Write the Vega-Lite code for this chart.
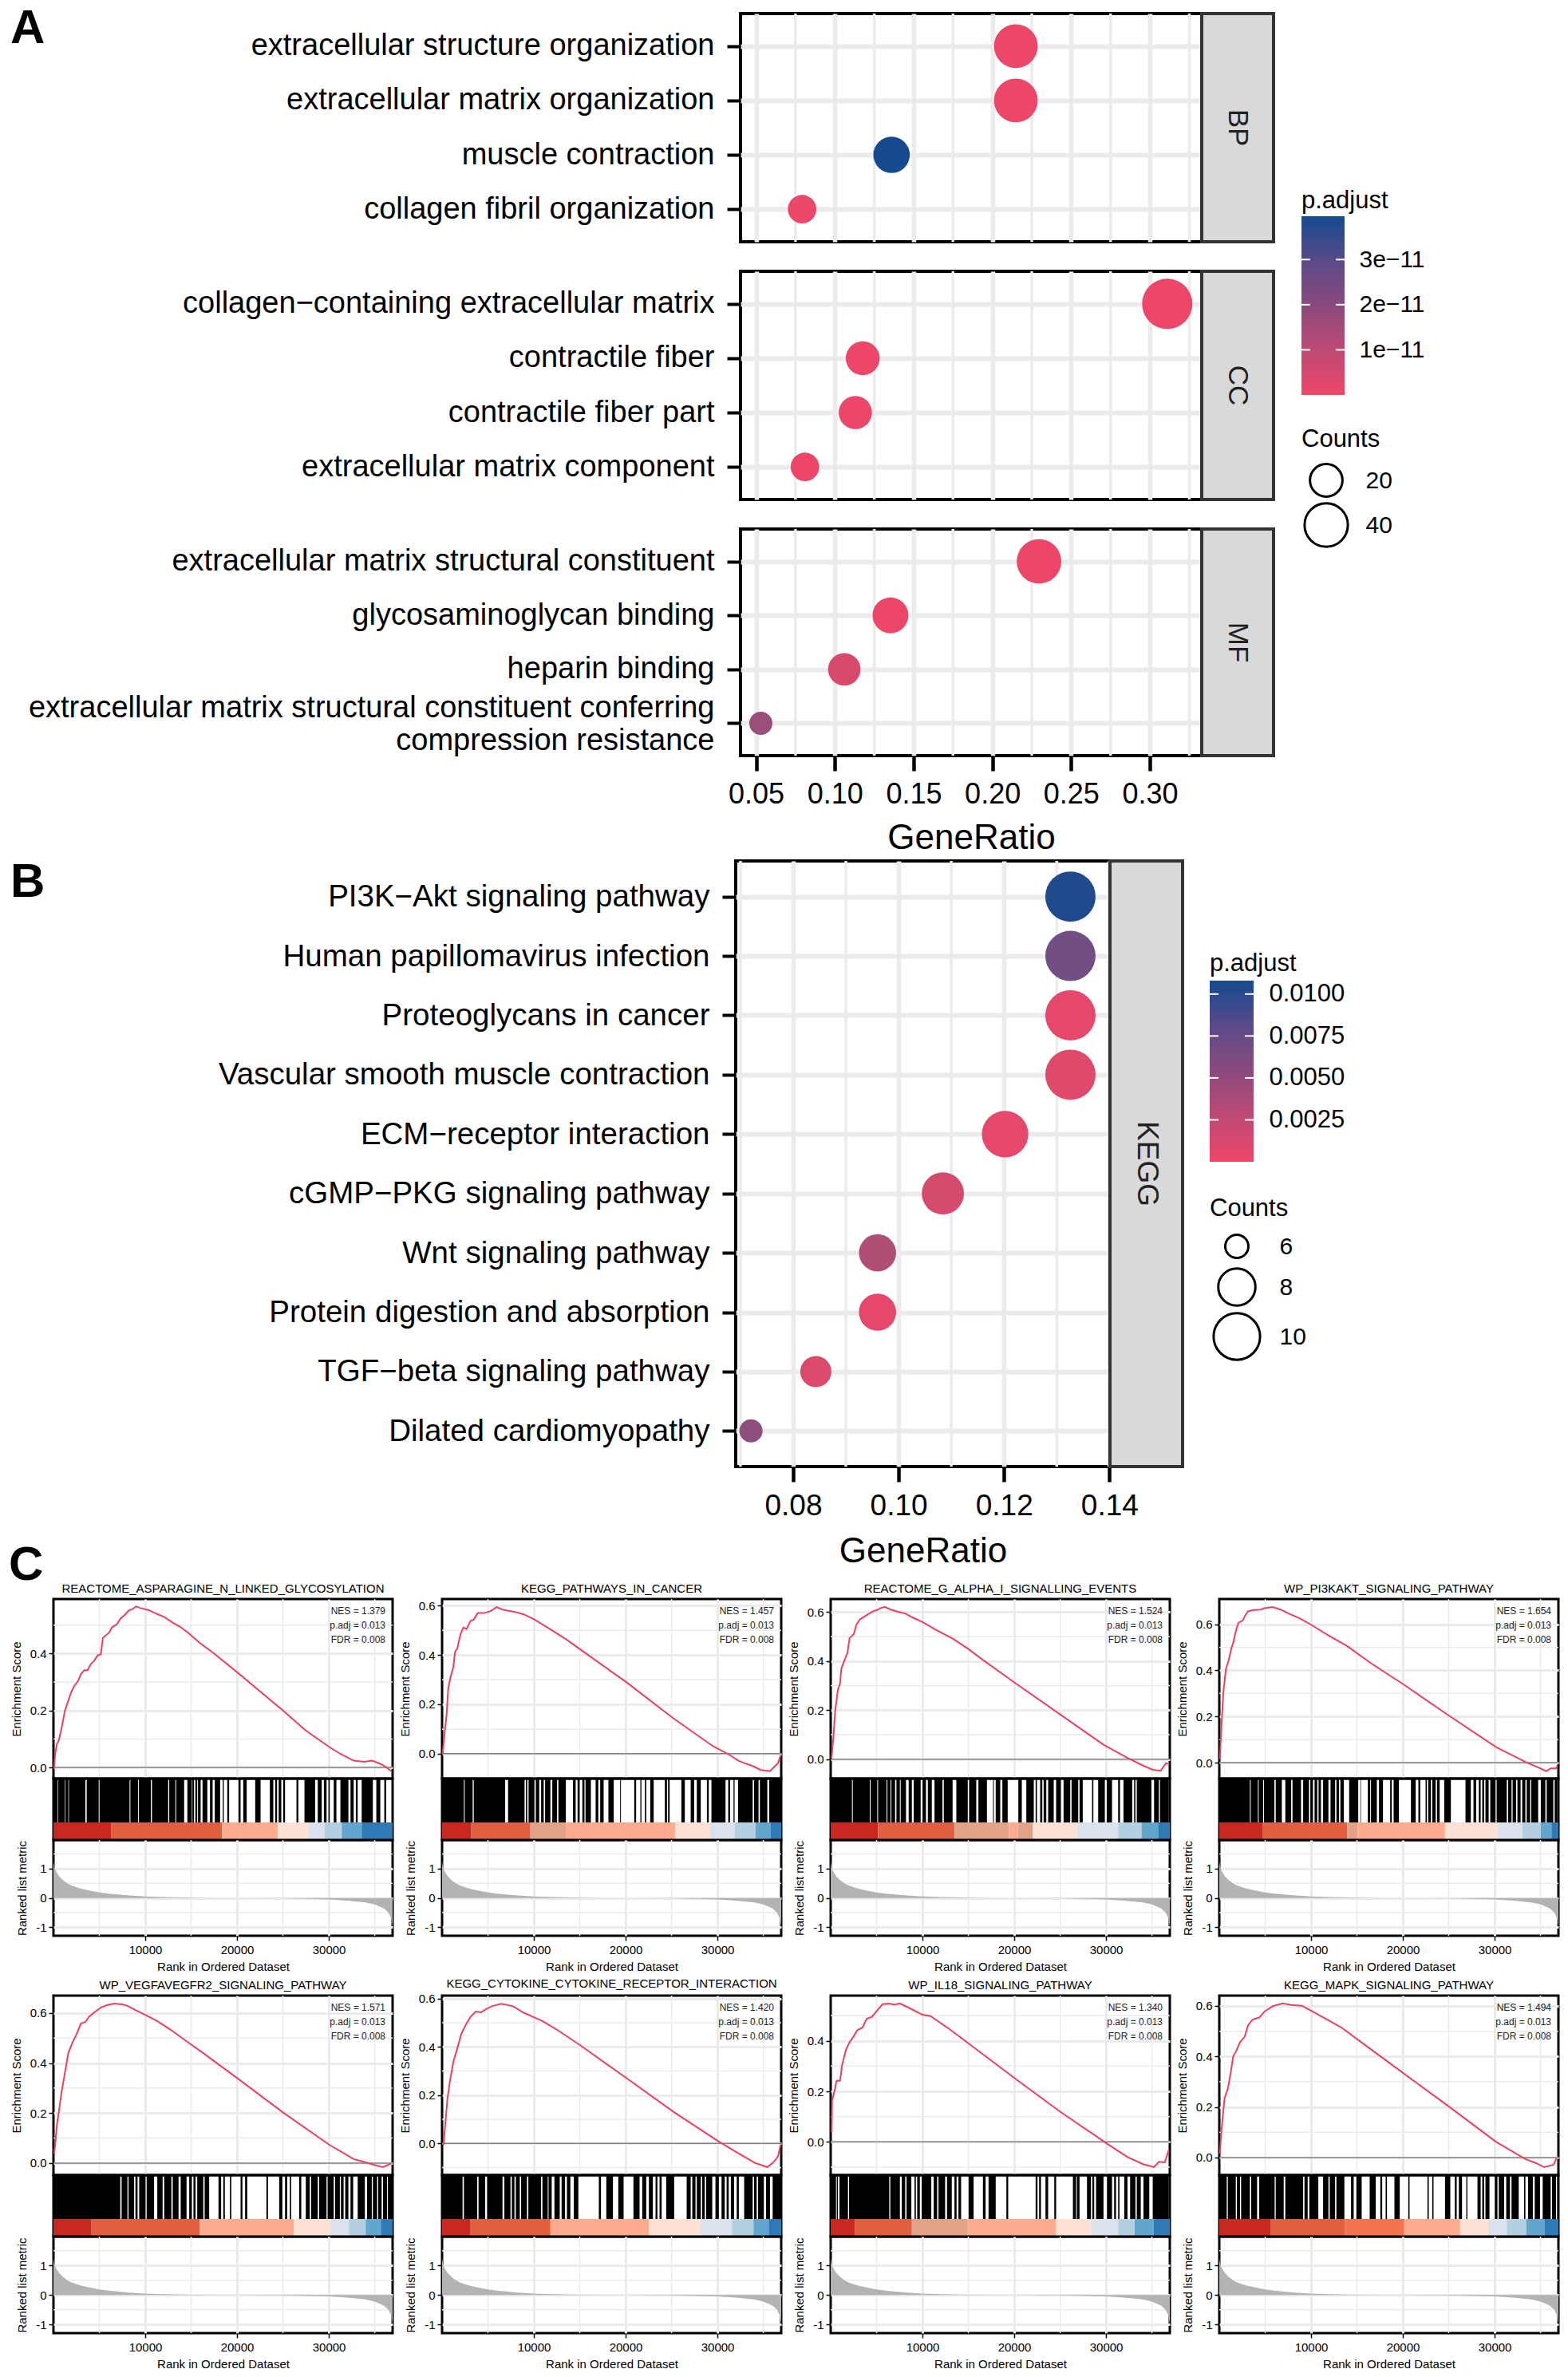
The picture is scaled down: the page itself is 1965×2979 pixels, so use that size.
{"$schema":"https://vega.github.io/schema/vega-lite/v6.json","background":"white","padding":{"left":10,"top":4,"right":0,"bottom":0},
"config":{"font":"Liberation Sans","title":{"fontWeight":"normal","color":"black"},"axis":{"gridColor":"#ebebeb","gridWidth":3,"tickColor":"black","tickWidth":1.5,"tickSize":6,"domain":false,"labelFontSize":15,"titleFontSize":15,"titleFontWeight":"normal","labelColor":"black","titleColor":"black","labelPadding":3,"titlePadding":9,"labelFlush":false,"labelOverlap":false},"rule":{"color":"#ebebeb","strokeWidth":1.5},"line":{"color":"#EE3F5F","strokeWidth":2},"area":{"color":"#b3b3b3"},"range":{"category":["#C8281F","#E15E3E","#FCAB8F","#FCE1D4","#DBE2EE","#B5CFE2","#62A5CE","#2F79B5","#E2A288","#F4744F"]}},
"datasets":{
"one":[{"s":1}],
"mx":[{"r":5000},{"r":15000},{"r":25000},{"r":35000}],
"my":[{"v":0.1},{"v":0.3},{"v":0.5}],
"my2":[{"v":-0.1},{"v":0.1},{"v":0.3},{"v":0.5}],
"mym":[{"v":-0.5},{"v":0.5},{"v":1.5}],
"zero":[{"v":0}],
"mxA":[{"r":0.075},{"r":0.125},{"r":0.175},{"r":0.225},{"r":0.275},{"r":0.325}],
"mxB":[{"r":0.07},{"r":0.09},{"r":0.11},{"r":0.13}],
"bp":[{"term":"extracellular structure organization","r":0.2149,"p":5e-13,"n":41},{"term":"extracellular matrix organization","r":0.2149,"p":5e-13,"n":41},{"term":"muscle contraction","r":0.136,"p":3.96e-11,"n":26},{"term":"collagen fibril organization","r":0.0792,"p":1e-12,"n":15}],
"cc":[{"term":"collagen−containing extracellular matrix","r":0.311,"p":5e-13,"n":59},{"term":"contractile fiber","r":0.1177,"p":5e-13,"n":22},{"term":"contractile fiber part","r":0.113,"p":5e-13,"n":21},{"term":"extracellular matrix component","r":0.081,"p":5e-13,"n":15}],
"mf":[{"term":"extracellular matrix structural constituent","r":0.2296,"p":5e-13,"n":43},{"term":"glycosaminoglycan binding","r":0.1353,"p":5e-13,"n":25},{"term":"heparin binding","r":0.106,"p":5e-12,"n":20},{"term":"extracellular matrix structural constituent conferring compression resistance","r":0.053,"p":1.9e-11,"n":10}],
"kegg":[{"term":"PI3K−Akt signaling pathway","r":0.1326,"p":0.0106,"n":11},{"term":"Human papillomavirus infection","r":0.1326,"p":0.0075,"n":11},{"term":"Proteoglycans in cancer","r":0.1326,"p":0.0006,"n":11},{"term":"Vascular smooth muscle contraction","r":0.1326,"p":0.001,"n":11},{"term":"ECM−receptor interaction","r":0.1202,"p":0.0006,"n":10},{"term":"cGMP−PKG signaling pathway","r":0.1084,"p":0.0016,"n":9},{"term":"Wnt signaling pathway","r":0.096,"p":0.0038,"n":8},{"term":"Protein digestion and absorption","r":0.096,"p":0.0006,"n":8},{"term":"TGF−beta signaling pathway","r":0.0843,"p":0.0012,"n":7},{"term":"Dilated cardiomyopathy","r":0.072,"p":0.006,"n":6}],
"metric":[{"r":0,"v":1.25},{"r":100,"v":1.05},{"r":300,"v":0.9},{"r":600,"v":0.75},{"r":1000,"v":0.62},{"r":1500,"v":0.5},{"r":2000,"v":0.42},{"r":3000,"v":0.32},{"r":4000,"v":0.25},{"r":5000,"v":0.19},{"r":6000,"v":0.15},{"r":8000,"v":0.09},{"r":10000,"v":0.05},{"r":12000,"v":0.03},{"r":15000,"v":0.01},{"r":18000,"v":0},{"r":20000,"v":0},{"r":25000,"v":-0.01},{"r":28000,"v":-0.03},{"r":30000,"v":-0.05},{"r":32000,"v":-0.09},{"r":34000,"v":-0.15},{"r":35000,"v":-0.22},{"r":36000,"v":-0.36},{"r":36500,"v":-0.5},{"r":36800,"v":-0.7},{"r":36950,"v":-1}],
"es1":[{"r":60,"v":-0.006},{"r":170,"v":0.043},{"r":350,"v":0.08},{"r":580,"v":0.095},{"r":870,"v":0.136},{"r":1250,"v":0.2},{"r":1620,"v":0.235},{"r":1910,"v":0.263},{"r":2260,"v":0.286},{"r":2700,"v":0.305},{"r":2990,"v":0.328},{"r":3360,"v":0.342},{"r":3710,"v":0.342},{"r":4060,"v":0.363},{"r":4430,"v":0.375},{"r":4810,"v":0.394},{"r":5160,"v":0.398},{"r":5390,"v":0.456},{"r":5740,"v":0.465},{"r":6090,"v":0.475},{"r":6380,"v":0.493},{"r":6900,"v":0.503},{"r":7330,"v":0.524},{"r":7770,"v":0.536},{"r":8200,"v":0.552},{"r":8640,"v":0.557},{"r":8990,"v":0.566},{"r":9510,"v":0.56},{"r":10380,"v":0.553},{"r":11250,"v":0.54},{"r":12120,"v":0.528},{"r":12990,"v":0.509},{"r":13860,"v":0.493},{"r":14720,"v":0.472},{"r":15880,"v":0.439},{"r":17330,"v":0.405},{"r":20000,"v":0.335},{"r":25010,"v":0.2},{"r":27480,"v":0.13},{"r":30090,"v":0.071},{"r":31250,"v":0.048},{"r":32700,"v":0.024},{"r":33280,"v":0.022},{"r":33860,"v":0.02},{"r":34730,"v":0.024},{"r":35600,"v":0.013},{"r":36170,"v":0.003},{"r":36810,"v":-0.013}],
"es2":[{"r":60,"v":-0.001},{"r":260,"v":0.08},{"r":490,"v":0.156},{"r":670,"v":0.263},{"r":930,"v":0.312},{"r":1220,"v":0.35},{"r":1420,"v":0.414},{"r":1650,"v":0.425},{"r":2000,"v":0.484},{"r":2320,"v":0.511},{"r":2670,"v":0.506},{"r":3100,"v":0.538},{"r":3450,"v":0.544},{"r":3890,"v":0.57},{"r":4550,"v":0.57},{"r":5280,"v":0.578},{"r":5950,"v":0.594},{"r":6580,"v":0.584},{"r":7020,"v":0.581},{"r":7450,"v":0.578},{"r":8030,"v":0.574},{"r":8900,"v":0.565},{"r":10060,"v":0.544},{"r":11510,"v":0.511},{"r":13540,"v":0.463},{"r":15570,"v":0.409},{"r":20070,"v":0.29},{"r":25140,"v":0.145},{"r":29490,"v":0.031},{"r":31090,"v":0},{"r":32250,"v":-0.028},{"r":32970,"v":-0.039},{"r":33840,"v":-0.05},{"r":34710,"v":-0.066},{"r":35730,"v":-0.071},{"r":36160,"v":-0.055},{"r":36600,"v":-0.039},{"r":36890,"v":-0.006}],
"es3":[{"r":90,"v":0.005},{"r":290,"v":0.087},{"r":490,"v":0.195},{"r":780,"v":0.282},{"r":1020,"v":0.309},{"r":1160,"v":0.369},{"r":1540,"v":0.407},{"r":1830,"v":0.434},{"r":2060,"v":0.494},{"r":2520,"v":0.51},{"r":2810,"v":0.548},{"r":3190,"v":0.57},{"r":3620,"v":0.58},{"r":4060,"v":0.591},{"r":4640,"v":0.604},{"r":5080,"v":0.608},{"r":5420,"v":0.616},{"r":5890,"v":0.621},{"r":6530,"v":0.61},{"r":7250,"v":0.602},{"r":8120,"v":0.594},{"r":8850,"v":0.579},{"r":10010,"v":0.559},{"r":11460,"v":0.527},{"r":13340,"v":0.491},{"r":14940,"v":0.451},{"r":16680,"v":0.402},{"r":20010,"v":0.313},{"r":24940,"v":0.184},{"r":29730,"v":0.059},{"r":32340,"v":0.005},{"r":34080,"v":-0.027},{"r":35090,"v":-0.043},{"r":35960,"v":-0.047},{"r":36540,"v":-0.016},{"r":36830,"v":-0.02}],
"es4":[{"r":60,"v":0.015},{"r":230,"v":0.154},{"r":440,"v":0.304},{"r":730,"v":0.408},{"r":1010,"v":0.442},{"r":1310,"v":0.494},{"r":1540,"v":0.524},{"r":1800,"v":0.57},{"r":2090,"v":0.607},{"r":2550,"v":0.616},{"r":2840,"v":0.639},{"r":3130,"v":0.656},{"r":3770,"v":0.662},{"r":4500,"v":0.664},{"r":4930,"v":0.67},{"r":5800,"v":0.675},{"r":6670,"v":0.664},{"r":7690,"v":0.644},{"r":8700,"v":0.627},{"r":10010,"v":0.598},{"r":11890,"v":0.552},{"r":13920,"v":0.506},{"r":16530,"v":0.431},{"r":20010,"v":0.341},{"r":24940,"v":0.206},{"r":30160,"v":0.067},{"r":33350,"v":0.003},{"r":34800,"v":-0.022},{"r":35610,"v":-0.037},{"r":36110,"v":-0.025},{"r":36690,"v":-0.025},{"r":36830,"v":-0.014}],
"es5":[{"r":60,"v":0.037},{"r":170,"v":0.069},{"r":380,"v":0.154},{"r":580,"v":0.202},{"r":870,"v":0.282},{"r":1250,"v":0.362},{"r":1620,"v":0.441},{"r":2030,"v":0.479},{"r":2550,"v":0.518},{"r":2990,"v":0.559},{"r":3480,"v":0.564},{"r":3860,"v":0.585},{"r":4440,"v":0.603},{"r":5160,"v":0.622},{"r":5740,"v":0.631},{"r":6610,"v":0.638},{"r":7480,"v":0.635},{"r":8060,"v":0.629},{"r":8930,"v":0.612},{"r":9950,"v":0.594},{"r":11250,"v":0.569},{"r":12700,"v":0.535},{"r":14440,"v":0.489},{"r":16470,"v":0.436},{"r":20010,"v":0.34},{"r":25030,"v":0.202},{"r":30020,"v":0.074},{"r":32710,"v":0.016},{"r":34020,"v":0.003},{"r":35030,"v":-0.008},{"r":35900,"v":-0.016},{"r":36770,"v":-0.002}],
"es6":[{"r":150,"v":-0.008},{"r":350,"v":0.078},{"r":580,"v":0.183},{"r":840,"v":0.254},{"r":1220,"v":0.337},{"r":1650,"v":0.392},{"r":2090,"v":0.453},{"r":2670,"v":0.497},{"r":3100,"v":0.524},{"r":3680,"v":0.546},{"r":4260,"v":0.543},{"r":4840,"v":0.557},{"r":5420,"v":0.568},{"r":6440,"v":0.578},{"r":7740,"v":0.568},{"r":8900,"v":0.541},{"r":10930,"v":0.507},{"r":12380,"v":0.474},{"r":14990,"v":0.408},{"r":20070,"v":0.271},{"r":25140,"v":0.133},{"r":30070,"v":0.01},{"r":32390,"v":-0.043},{"r":34130,"v":-0.081},{"r":35440,"v":-0.098},{"r":36160,"v":-0.076},{"r":36600,"v":-0.054},{"r":36890,"v":-0.004}],
"es7":[{"r":90,"v":0.037},{"r":150,"v":0.163},{"r":440,"v":0.205},{"r":640,"v":0.242},{"r":1020,"v":0.242},{"r":1250,"v":0.305},{"r":1650,"v":0.363},{"r":2030,"v":0.393},{"r":2470,"v":0.416},{"r":2900,"v":0.442},{"r":3480,"v":0.453},{"r":3920,"v":0.487},{"r":4500,"v":0.495},{"r":5080,"v":0.521},{"r":5660,"v":0.545},{"r":6380,"v":0.547},{"r":6960,"v":0.543},{"r":7540,"v":0.548},{"r":8560,"v":0.53},{"r":10010,"v":0.503},{"r":10880,"v":0.498},{"r":12910,"v":0.447},{"r":15230,"v":0.384},{"r":20010,"v":0.253},{"r":24940,"v":0.121},{"r":30020,"v":-0.005},{"r":32340,"v":-0.06},{"r":34080,"v":-0.089},{"r":35240,"v":-0.1},{"r":35760,"v":-0.079},{"r":36400,"v":-0.081},{"r":36830,"v":-0.032}],
"es8":[{"r":60,"v":0.015},{"r":170,"v":0.078},{"r":350,"v":0.152},{"r":580,"v":0.236},{"r":930,"v":0.272},{"r":1220,"v":0.33},{"r":1510,"v":0.399},{"r":1890,"v":0.425},{"r":2260,"v":0.457},{"r":2760,"v":0.478},{"r":3130,"v":0.523},{"r":3630,"v":0.546},{"r":4350,"v":0.554},{"r":4930,"v":0.578},{"r":5800,"v":0.599},{"r":6900,"v":0.61},{"r":7830,"v":0.604},{"r":8990,"v":0.601},{"r":10150,"v":0.578},{"r":11600,"v":0.549},{"r":13340,"v":0.514},{"r":15080,"v":0.467},{"r":20010,"v":0.335},{"r":24940,"v":0.204},{"r":30160,"v":0.062},{"r":33350,"v":-0.006},{"r":34510,"v":-0.022},{"r":35380,"v":-0.038},{"r":36400,"v":-0.029},{"r":36770,"v":-0.001}],
"nes1":[{"t":"NES = 1.379","r":36170,"v":0.55},{"t":"p.adj = 0.013","r":36170,"v":0.4995},{"t":"FDR = 0.008","r":36170,"v":0.449}],
"nes2":[{"t":"NES = 1.457","r":36170,"v":0.5785},{"t":"p.adj = 0.013","r":36170,"v":0.5202},{"t":"FDR = 0.008","r":36170,"v":0.462}],
"nes3":[{"t":"NES = 1.524","r":36170,"v":0.6042},{"t":"p.adj = 0.013","r":36170,"v":0.5457},{"t":"FDR = 0.008","r":36170,"v":0.4871}],
"nes4":[{"t":"NES = 1.654","r":36170,"v":0.6577},{"t":"p.adj = 0.013","r":36170,"v":0.5954},{"t":"FDR = 0.008","r":36170,"v":0.5331}],
"nes5":[{"t":"NES = 1.571","r":36170,"v":0.6221},{"t":"p.adj = 0.013","r":36170,"v":0.5647},{"t":"FDR = 0.008","r":36170,"v":0.5073}],
"nes6":[{"t":"NES = 1.420","r":36170,"v":0.5625},{"t":"p.adj = 0.013","r":36170,"v":0.5031},{"t":"FDR = 0.008","r":36170,"v":0.4437}],
"nes7":[{"t":"NES = 1.340","r":36170,"v":0.5316},{"t":"p.adj = 0.013","r":36170,"v":0.4747},{"t":"FDR = 0.008","r":36170,"v":0.4178}],
"nes8":[{"t":"NES = 1.494","r":36170,"v":0.5936},{"t":"p.adj = 0.013","r":36170,"v":0.5367},{"t":"FDR = 0.008","r":36170,"v":0.4798}],
"heat1":[{"a":0,"b":6264,"k":"a"},{"a":6264,"b":18357,"k":"b"},{"a":18357,"b":24447,"k":"c"},{"a":24447,"b":27782,"k":"d"},{"a":27782,"b":29522,"k":"e"},{"a":29522,"b":31407,"k":"f"},{"a":31407,"b":33582,"k":"g"},{"a":33582,"b":36950,"k":"h"}],
"heat2":[{"a":0,"b":3190,"k":"a"},{"a":3190,"b":9628,"k":"b"},{"a":9628,"b":13485,"k":"i"},{"a":13485,"b":25433,"k":"c"},{"a":25433,"b":29203,"k":"d"},{"a":29203,"b":31871,"k":"e"},{"a":31871,"b":34133,"k":"f"},{"a":34133,"b":35815,"k":"g"},{"a":35815,"b":36950,"k":"h"}],
"heat3":[{"a":0,"b":5162,"k":"a"},{"a":5162,"b":13485,"k":"b"},{"a":13485,"b":19430,"k":"i"},{"a":19430,"b":20445,"k":"c"},{"a":20445,"b":22040,"k":"i"},{"a":22040,"b":26825,"k":"d"},{"a":26825,"b":31320,"k":"e"},{"a":31320,"b":33872,"k":"f"},{"a":33872,"b":35670,"k":"g"},{"a":35670,"b":36950,"k":"h"}],
"heat4":[{"a":0,"b":4698,"k":"a"},{"a":4698,"b":13920,"k":"b"},{"a":13920,"b":15080,"k":"i"},{"a":15080,"b":24592,"k":"c"},{"a":24592,"b":30305,"k":"d"},{"a":30305,"b":33002,"k":"e"},{"a":33002,"b":35032,"k":"f"},{"a":35032,"b":36192,"k":"g"},{"a":36192,"b":36950,"k":"h"}],
"heat5":[{"a":0,"b":4147,"k":"a"},{"a":4147,"b":15950,"k":"b"},{"a":15950,"b":26187,"k":"c"},{"a":26187,"b":30160,"k":"d"},{"a":30160,"b":32190,"k":"e"},{"a":32190,"b":34017,"k":"f"},{"a":34017,"b":35670,"k":"g"},{"a":35670,"b":36950,"k":"h"}],
"heat6":[{"a":0,"b":3045,"k":"a"},{"a":3045,"b":11803,"k":"b"},{"a":11803,"b":22533,"k":"c"},{"a":22533,"b":28101,"k":"d"},{"a":28101,"b":31581,"k":"e"},{"a":31581,"b":33930,"k":"f"},{"a":33930,"b":35583,"k":"g"},{"a":35583,"b":36950,"k":"h"}],
"heat7":[{"a":0,"b":2668,"k":"a"},{"a":2668,"b":8845,"k":"b"},{"a":8845,"b":14935,"k":"i"},{"a":14935,"b":24563,"k":"c"},{"a":24563,"b":28420,"k":"d"},{"a":28420,"b":31320,"k":"e"},{"a":31320,"b":33118,"k":"f"},{"a":33118,"b":35177,"k":"g"},{"a":35177,"b":36950,"k":"h"}],
"heat8":[{"a":0,"b":5568,"k":"a"},{"a":5568,"b":13688,"k":"b"},{"a":13688,"b":20155,"k":"j"},{"a":20155,"b":26245,"k":"c"},{"a":26245,"b":29290,"k":"d"},{"a":29290,"b":31320,"k":"e"},{"a":31320,"b":33437,"k":"f"},{"a":33437,"b":35467,"k":"g"},{"a":35467,"b":36950,"k":"h"}],
"hits1":[{"a":0,"b":464},{"a":522,"b":1247},{"a":1305,"b":1624},{"a":1682,"b":3480},{"a":3625,"b":4930},{"a":5017,"b":8294},{"a":8381,"b":9222},{"a":9309,"b":10614},{"a":10730,"b":12499},{"a":12615,"b":13282},{"a":13369,"b":14239},{"a":14587,"b":15080},{"a":15138,"b":15312},{"a":15457,"b":15660},{"a":15747,"b":16037},{"a":16240,"b":16762},{"a":17052,"b":17342},{"a":17574,"b":18154},{"a":18444,"b":18560},{"a":18937,"b":19140},{"a":20155,"b":20387},{"a":20677,"b":21054},{"a":21982,"b":22562},{"a":23577,"b":23954},{"a":24157,"b":24360},{"a":24534,"b":24824},{"a":25027,"b":25230},{"a":26477,"b":26680},{"a":27347,"b":28507},{"a":28797,"b":29232},{"a":29464,"b":29754},{"a":29957,"b":30102},{"a":30537,"b":30827},{"a":31262,"b":32132},{"a":32364,"b":32712},{"a":32944,"b":33147},{"a":33582,"b":34800},{"a":35177,"b":35612},{"a":36047,"b":36250}],
"hits2":[{"a":0,"b":2378},{"a":2465,"b":3335},{"a":3451,"b":6873},{"a":7192,"b":8990},{"a":9135,"b":9280},{"a":9425,"b":10063},{"a":10208,"b":10585},{"a":10788,"b":11078},{"a":11223,"b":11803},{"a":12006,"b":12528},{"a":12673,"b":13485},{"a":14268,"b":14558},{"a":14761,"b":14993},{"a":15283,"b":15515},{"a":15631,"b":16211},{"a":16733,"b":17023},{"a":17226,"b":17603},{"a":18125,"b":18705},{"a":19401,"b":19488},{"a":20938,"b":21141},{"a":21605,"b":21721},{"a":22098,"b":22243},{"a":22678,"b":23055},{"a":24273,"b":24505},{"a":24621,"b":24795},{"a":26071,"b":26448},{"a":27086,"b":27463},{"a":27753,"b":28188},{"a":28855,"b":29058},{"a":29348,"b":30885},{"a":31175,"b":31378},{"a":31755,"b":31871},{"a":32248,"b":33843},{"a":33988,"b":34481},{"a":34626,"b":35438},{"a":35641,"b":36946}],
"hits3":[{"a":0,"b":2320},{"a":2407,"b":4263},{"a":4350,"b":5075},{"a":5162,"b":6090},{"a":6177,"b":6525},{"a":6612,"b":7018},{"a":7163,"b":7540},{"a":7627,"b":8207},{"a":8497,"b":8845},{"a":9048,"b":9802},{"a":10005,"b":10382},{"a":10585,"b":11020},{"a":11310,"b":12180},{"a":12325,"b":13282},{"a":13688,"b":14935},{"a":15080,"b":15863},{"a":16095,"b":17023},{"a":17690,"b":17777},{"a":17980,"b":18473},{"a":18705,"b":19285},{"a":20445,"b":20822},{"a":21315,"b":22127},{"a":22330,"b":22475},{"a":22823,"b":23055},{"a":23200,"b":23490},{"a":23693,"b":24302},{"a":24563,"b":25085},{"a":25375,"b":26100},{"a":26245,"b":26970},{"a":27115,"b":27463},{"a":28478,"b":28623},{"a":29145,"b":29870},{"a":30073,"b":30653},{"a":31320,"b":31523},{"a":31900,"b":32857},{"a":33060,"b":33205},{"a":33350,"b":34945},{"a":35235,"b":35757},{"a":35873,"b":36830}],
"hits4":[{"a":0,"b":3335},{"a":3422,"b":4205},{"a":4292,"b":4785},{"a":4872,"b":6003},{"a":6148,"b":6815},{"a":7192,"b":7830},{"a":7975,"b":8903},{"a":9135,"b":9773},{"a":9918,"b":10208},{"a":10382,"b":10672},{"a":10817,"b":11078},{"a":11310,"b":11890},{"a":12122,"b":12615},{"a":12760,"b":13050},{"a":13195,"b":13572},{"a":14152,"b":15138},{"a":15370,"b":15428},{"a":16182,"b":16443},{"a":16530,"b":17168},{"a":17400,"b":17835},{"a":18618,"b":18792},{"a":18995,"b":19575},{"a":20880,"b":21402},{"a":21692,"b":21895},{"a":22475,"b":22620},{"a":22765,"b":23055},{"a":23200,"b":23577},{"a":23722,"b":24012},{"a":24505,"b":25230},{"a":26825,"b":27405},{"a":27695,"b":27985},{"a":28275,"b":28478},{"a":28652,"b":28855},{"a":29000,"b":29348},{"a":29522,"b":30102},{"a":30218,"b":31320},{"a":31465,"b":31842},{"a":31958,"b":32335},{"a":32480,"b":32828},{"a":33002,"b":33350},{"a":33495,"b":33872},{"a":33988,"b":34742},{"a":35032,"b":35525},{"a":35670,"b":36395},{"a":36540,"b":36830}],
"hits5":[{"a":0,"b":7279},{"a":7424,"b":8062},{"a":8178,"b":8787},{"a":8932,"b":9164},{"a":9338,"b":10034},{"a":10150,"b":10962},{"a":11310,"b":11890},{"a":12064,"b":12847},{"a":12992,"b":13630},{"a":13862,"b":14500},{"a":14790,"b":15080},{"a":15254,"b":15486},{"a":15660,"b":16327},{"a":16472,"b":16965},{"a":17980,"b":18270},{"a":18502,"b":18676},{"a":19227,"b":19372},{"a":20387,"b":20590},{"a":20880,"b":21112},{"a":23200,"b":23374},{"a":24592,"b":24940},{"a":25230,"b":25462},{"a":25752,"b":25897},{"a":26767,"b":26999},{"a":27492,"b":27927},{"a":28072,"b":28797},{"a":28942,"b":29754},{"a":29870,"b":30537},{"a":30682,"b":31204},{"a":31320,"b":31610},{"a":31784,"b":32132},{"a":32364,"b":32654},{"a":33147,"b":33930},{"a":34162,"b":34684},{"a":34800,"b":35264},{"a":35380,"b":35757},{"a":35902,"b":36337},{"a":36424,"b":36917}],
"hits6":[{"a":0,"b":2233},{"a":2378,"b":3828},{"a":3973,"b":4698},{"a":4901,"b":6583},{"a":6786,"b":7453},{"a":7598,"b":7888},{"a":8033,"b":8468},{"a":8613,"b":9251},{"a":9396,"b":10788},{"a":10933,"b":11513},{"a":11600,"b":11948},{"a":12238,"b":12818},{"a":13021,"b":13398},{"a":13601,"b":13978},{"a":14355,"b":14848},{"a":17081,"b":17313},{"a":17893,"b":18618},{"a":19198,"b":19778},{"a":20851,"b":21518},{"a":21808,"b":22243},{"a":22533,"b":22968},{"a":23258,"b":23461},{"a":23693,"b":23925},{"a":24418,"b":25288},{"a":26651,"b":27086},{"a":27260,"b":27608},{"a":27753,"b":28188},{"a":28333,"b":28623},{"a":28768,"b":29435},{"a":29783,"b":30160},{"a":30450,"b":30798},{"a":31001,"b":31233},{"a":31465,"b":31813},{"a":32103,"b":32335},{"a":32915,"b":33843},{"a":33988,"b":34278},{"a":34423,"b":35061},{"a":35293,"b":35728},{"a":36018,"b":36946}],
"hits7":[{"a":0,"b":580},{"a":667,"b":783},{"a":957,"b":1885},{"a":2001,"b":6380},{"a":6496,"b":7540},{"a":7743,"b":8120},{"a":8265,"b":8787},{"a":9135,"b":9280},{"a":9425,"b":9715},{"a":9918,"b":10962},{"a":11223,"b":11600},{"a":11745,"b":12470},{"a":12673,"b":13195},{"a":13485,"b":13717},{"a":13920,"b":14210},{"a":15022,"b":15573},{"a":16588,"b":16878},{"a":17197,"b":17980},{"a":19140,"b":19343},{"a":22330,"b":22533},{"a":22707,"b":22910},{"a":23403,"b":23693},{"a":24360,"b":24563},{"a":26390,"b":26738},{"a":26825,"b":27115},{"a":27927,"b":28362},{"a":28507,"b":28710},{"a":28913,"b":29725},{"a":30102,"b":30653},{"a":30885,"b":31088},{"a":31320,"b":31465},{"a":31987,"b":32335},{"a":32625,"b":33205},{"a":33350,"b":33785},{"a":34075,"b":34713},{"a":35090,"b":36830}],
"hits8":[{"a":0,"b":812},{"a":928,"b":1798},{"a":1914,"b":2262},{"a":2378,"b":3335},{"a":3480,"b":4118},{"a":4350,"b":6032},{"a":6148,"b":7018},{"a":7192,"b":9135},{"a":9280,"b":9628},{"a":9802,"b":10788},{"a":11310,"b":11890},{"a":12035,"b":12615},{"a":12760,"b":13630},{"a":14355,"b":14645},{"a":14935,"b":15515},{"a":16385,"b":17052},{"a":17545,"b":17748},{"a":18125,"b":18270},{"a":19082,"b":19662},{"a":20590,"b":20735},{"a":22678,"b":22823},{"a":23200,"b":23345},{"a":24592,"b":25172},{"a":25665,"b":25868},{"a":26100,"b":26448},{"a":26912,"b":27028},{"a":28130,"b":28478},{"a":28652,"b":28855},{"a":29000,"b":29435},{"a":30015,"b":30305},{"a":30450,"b":31030},{"a":31262,"b":31668},{"a":31842,"b":32625},{"a":33205,"b":33350},{"a":33640,"b":34162},{"a":34365,"b":34945},{"a":35235,"b":36105},{"a":36250,"b":36685},{"a":36830,"b":36888}]
},
"spacing":-36,"columns":1,"align":"none","resolve":{"scale":{"size":"independent","color":"independent"}},
"concat":[
{"spacing":0,"resolve":{"scale":{"size":"independent","color":"independent"}},"hconcat":[
{"width":1,"height":1093,"view":{"stroke":null},"data":{"name":"one"},"mark":{"type":"rect","opacity":0}},
{"spacing":30,"resolve":{"scale":{"size":"independent","color":"independent"}},"hconcat":[
{"concat":[
{"title":{"text":"A","frame":"group","fontSize":60,"fontWeight":"bold","anchor":"start","baseline":"alphabetic","offset":0,"dx":-915,"dy":99},"width":578,"height":286,"view":{"stroke":"black","strokeWidth":4},"layer":[
{"data":{"name":"mxA"},"mark":{"type":"rule","strokeWidth":3.5},"encoding":{"x":{"field":"r","type":"quantitative","scale":{"domain":[0.0401,0.3329],"nice":false},"axis":{"values":[0.05,0.1,0.15,0.2,0.25,0.3],"gridWidth":5.5,"labels":false,"ticks":false,"title":null}}}},
{"data":{"name":"bp"},"mark":{"type":"circle","opacity":1},"encoding":{"x":{"field":"r","type":"quantitative"},"y":{"field":"term","type":"nominal","sort":null,"title":null,"scale":{"type":"point","padding":0.6},"axis":{"grid":true,"gridWidth":6,"labelFontSize":38,"labelLimit":1200,"tickSize":17,"tickWidth":4,"labelPadding":16}},"color":{"field":"p","type":"quantitative","scale":{"domain":[0,3.96e-11],"range":["#EE4668","#154A8F"],"interpolate":"lab"},"legend":null},"size":{"field":"n","type":"quantitative","scale":{"type":"pow","exponent":0.65,"domain":[10,59],"range":[841,3969]},"legend":null}}}]},
{"width":90,"height":286,"view":{"fill":"#d9d9d9","stroke":"#333333","strokeWidth":4},"data":{"values":[{"s":"BP"}]},"mark":{"type":"text","angle":90,"fontSize":35,"color":"#222222"},"encoding":{"text":{"field":"s"}}},
{"width":578,"height":286,"view":{"stroke":"black","strokeWidth":4},"layer":[
{"data":{"name":"mxA"},"mark":{"type":"rule","strokeWidth":3.5},"encoding":{"x":{"field":"r","type":"quantitative","scale":{"domain":[0.0401,0.3329],"nice":false},"axis":{"values":[0.05,0.1,0.15,0.2,0.25,0.3],"gridWidth":5.5,"labels":false,"ticks":false,"title":null}}}},
{"data":{"name":"cc"},"mark":{"type":"circle","opacity":1},"encoding":{"x":{"field":"r","type":"quantitative"},"y":{"field":"term","type":"nominal","sort":null,"title":null,"scale":{"type":"point","padding":0.6},"axis":{"grid":true,"gridWidth":6,"labelFontSize":38,"labelLimit":1200,"tickSize":17,"tickWidth":4,"labelPadding":16}},"color":{"field":"p","type":"quantitative","scale":{"domain":[0,3.96e-11],"range":["#EE4668","#154A8F"],"interpolate":"lab"},"legend":null},"size":{"field":"n","type":"quantitative","scale":{"type":"pow","exponent":0.65,"domain":[10,59],"range":[841,3969]},"legend":null}}}]},
{"width":90,"height":286,"view":{"fill":"#d9d9d9","stroke":"#333333","strokeWidth":4},"data":{"values":[{"s":"CC"}]},"mark":{"type":"text","angle":90,"fontSize":35,"color":"#222222"},"encoding":{"text":{"field":"s"}}},
{"width":578,"height":284,"view":{"stroke":"black","strokeWidth":4},"layer":[
{"data":{"name":"mxA"},"mark":{"type":"rule","strokeWidth":3.5},"encoding":{"x":{"field":"r","type":"quantitative","scale":{"domain":[0.0401,0.3329],"nice":false},"axis":{"values":[0.05,0.1,0.15,0.2,0.25,0.3],"format":".2f","gridWidth":5.5,"labelFontSize":36,"tickSize":19,"tickWidth":4.5,"labelPadding":12,"title":"GeneRatio","titleFontSize":44,"titlePadding":15}}}},
{"data":{"name":"mf"},"mark":{"type":"circle","opacity":1},"encoding":{"x":{"field":"r","type":"quantitative"},"y":{"field":"term","type":"nominal","sort":null,"title":null,"scale":{"type":"point","padding":0.6},"axis":{"grid":true,"gridWidth":6,"labelFontSize":38,"labelLimit":1200,"tickSize":17,"tickWidth":4,"labelPadding":16,"labelLineHeight":41,"labelOffset":{"condition":{"test":"indexof(datum.value,'conferring')>0","value":-19},"value":0},"labelExpr":"indexof(datum.label,'conferring')>0 ? ['extracellular matrix structural constituent conferring','compression resistance'] : datum.label"}},"color":{"field":"p","type":"quantitative","scale":{"domain":[0,3.96e-11],"range":["#EE4668","#154A8F"],"interpolate":"lab"},"legend":null},"size":{"field":"n","type":"quantitative","scale":{"type":"pow","exponent":0.65,"domain":[10,59],"range":[841,3969]},"legend":null}}}]},
{"width":90,"height":284,"view":{"fill":"#d9d9d9","stroke":"#333333","strokeWidth":4},"data":{"values":[{"s":"MF"}]},"mark":{"type":"text","angle":90,"fontSize":35,"color":"#222222"},"encoding":{"text":{"field":"s"}}}
],"columns":2,"align":"each","bounds":"flush","spacing":{"row":37,"column":0},"resolve":{"scale":{"size":"independent","color":"independent"}}},
{"vconcat":[
{"width":54,"height":254,"view":{"stroke":null},"data":{"name":"one"},"mark":{"type":"rect","opacity":0}},
{"title":{"text":"p.adjust","frame":"group","fontSize":31,"anchor":"start","offset":3},"width":54,"height":224,"view":{"stroke":null},"layer":[
{"data":{"name":"one"},"mark":{"type":"rect","color":{"gradient":"linear","x1":0,"y1":1,"x2":0,"y2":0,"stops":[{"offset":0,"color":"#EE4668"},{"offset":0.25,"color":"#BE4A74"},{"offset":0.5,"color":"#8C4A7E"},{"offset":0.75,"color":"#5A4A87"},{"offset":1,"color":"#154A8F"}]}}},
{"data":{"values":[{"v":1e-11,"a":0,"b":0.2},{"v":1e-11,"a":0.8,"b":1},{"v":2e-11,"a":0,"b":0.2},{"v":2e-11,"a":0.8,"b":1},{"v":3e-11,"a":0,"b":0.2},{"v":3e-11,"a":0.8,"b":1}]},"mark":{"type":"rule","color":"white","strokeWidth":2},"encoding":{"x":{"field":"a","type":"quantitative","scale":{"domain":[0,1],"nice":false},"axis":null},"x2":{"field":"b"},"y":{"field":"v","type":"quantitative","scale":{"domain":[0,3.96e-11],"nice":false},"axis":{"orient":"right","values":[1e-11,2e-11,3e-11],"ticks":false,"grid":false,"title":null,"labelFontSize":30,"labelPadding":18,"labelExpr":"replace(format(datum.value,'.0e'),'-','−')"}}}}]},
{"width":62,"height":107,"view":{"stroke":null},"data":{"name":"one"},"mark":{"type":"rect","opacity":0}},
{"title":{"text":"Counts","frame":"group","fontSize":31,"anchor":"start","offset":9},"width":62,"height":56,"view":{"stroke":null},"data":{"values":[{"n":20},{"n":40}]},"mark":{"type":"point","stroke":"black","strokeWidth":3,"fill":"transparent","opacity":1},"encoding":{"y":{"field":"n","type":"quantitative","scale":{"domain":[20,40],"range":[0,56],"nice":false},"axis":{"orient":"right","values":[20,40],"format":"d","ticks":false,"grid":false,"title":null,"labelFontSize":30,"labelPadding":18}},"size":{"field":"n","type":"quantitative","scale":{"type":"pow","exponent":0.65,"domain":[10,59],"range":[841,3969]},"legend":null}}}
],"bounds":"flush","spacing":0,"resolve":{"scale":{"size":"independent","color":"independent"}}}
]}]},
{"spacing":0,"resolve":{"scale":{"size":"independent","color":"independent"}},"hconcat":[
{"width":1,"height":1,"view":{"stroke":null},"data":{"name":"one"},"mark":{"type":"rect","opacity":0}},
{"spacing":30,"resolve":{"scale":{"size":"independent","color":"independent"}},"hconcat":[
{"hconcat":[
{"title":{"text":"B","frame":"group","fontSize":60,"fontWeight":"bold","anchor":"start","baseline":"alphabetic","offset":0,"dx":-909,"dy":107},"width":469,"height":759,"view":{"stroke":"black","strokeWidth":4},"layer":[
{"data":{"name":"mxB"},"mark":{"type":"rule","strokeWidth":3.5},"encoding":{"x":{"field":"r","type":"quantitative","scale":{"domain":[0.0691,0.1401],"nice":false},"axis":{"values":[0.08,0.1,0.12,0.14],"format":".2f","gridWidth":5.5,"labelFontSize":37,"tickSize":19,"tickWidth":4.5,"labelPadding":12,"title":"GeneRatio","titleFontSize":44,"titlePadding":17}}}},
{"data":{"name":"kegg"},"mark":{"type":"circle","opacity":1},"encoding":{"x":{"field":"r","type":"quantitative"},"y":{"field":"term","type":"nominal","sort":null,"title":null,"scale":{"type":"point","padding":0.6},"axis":{"grid":true,"gridWidth":6,"labelFontSize":38.5,"labelLimit":1200,"tickSize":17,"tickWidth":4,"labelPadding":16}},"color":{"field":"p","type":"quantitative","scale":{"domain":[0,0.0108],"range":["#EE4668","#154A8F"],"interpolate":"lab"},"legend":null},"size":{"field":"n","type":"quantitative","scale":{"type":"pow","exponent":0.65,"domain":[6,11],"range":[841,3969]},"legend":null}}}]},
{"width":91,"height":759,"view":{"fill":"#d9d9d9","stroke":"#333333","strokeWidth":4},"data":{"values":[{"s":"KEGG"}]},"mark":{"type":"text","angle":90,"fontSize":37,"color":"#222222"},"encoding":{"text":{"field":"s"}}}
],"bounds":"flush","spacing":0,"resolve":{"scale":{"size":"independent","color":"independent"}}},
{"vconcat":[
{"width":55,"height":150,"view":{"stroke":null},"data":{"name":"one"},"mark":{"type":"rect","opacity":0}},
{"title":{"text":"p.adjust","frame":"group","fontSize":31,"anchor":"start","offset":5},"width":55,"height":227,"view":{"stroke":null},"layer":[
{"data":{"name":"one"},"mark":{"type":"rect","color":{"gradient":"linear","x1":0,"y1":1,"x2":0,"y2":0,"stops":[{"offset":0,"color":"#EE4668"},{"offset":0.25,"color":"#BE4A74"},{"offset":0.5,"color":"#8C4A7E"},{"offset":0.75,"color":"#5A4A87"},{"offset":1,"color":"#154A8F"}]}}},
{"data":{"values":[{"v":0.0025,"a":0,"b":0.2},{"v":0.0025,"a":0.8,"b":1},{"v":0.005,"a":0,"b":0.2},{"v":0.005,"a":0.8,"b":1},{"v":0.0075,"a":0,"b":0.2},{"v":0.0075,"a":0.8,"b":1},{"v":0.01,"a":0,"b":0.2},{"v":0.01,"a":0.8,"b":1}]},"mark":{"type":"rule","color":"white","strokeWidth":2},"encoding":{"x":{"field":"a","type":"quantitative","scale":{"domain":[0,1],"nice":false},"axis":null},"x2":{"field":"b"},"y":{"field":"v","type":"quantitative","scale":{"domain":[0,0.0108],"nice":false},"axis":{"orient":"right","values":[0.0025,0.005,0.0075,0.01],"format":".4f","ticks":false,"grid":false,"title":null,"labelFontSize":31,"labelPadding":19}}}}]},
{"width":68,"height":106,"view":{"stroke":null},"data":{"name":"one"},"mark":{"type":"rect","opacity":0}},
{"title":{"text":"Counts","frame":"group","fontSize":31,"anchor":"start","offset":11},"width":68,"height":113,"view":{"stroke":null},"data":{"values":[{"n":6},{"n":8},{"n":10}]},"mark":{"type":"point","stroke":"black","strokeWidth":3,"fill":"transparent","opacity":1},"encoding":{"y":{"field":"n","type":"quantitative","scale":{"domain":[6,8,10],"range":[0,51,113],"nice":false},"axis":{"orient":"right","values":[6,8,10],"format":"d","ticks":false,"grid":false,"title":null,"labelFontSize":30,"labelPadding":19}},"size":{"field":"n","type":"quantitative","scale":{"type":"pow","exponent":0.65,"domain":[6,11],"range":[841,3969]},"legend":null}}}
],"bounds":"flush","spacing":0,"resolve":{"scale":{"size":"independent","color":"independent"}}}
]}]},
{"spacing":0,"hconcat":[
{"width":1,"height":1,"view":{"stroke":null},"data":{"name":"one"},"mark":{"type":"rect","opacity":0}},
{"concat":[
{"title":{"text":"C","frame":"group","fontSize":60,"fontWeight":"bold","anchor":"start","baseline":"alphabetic","offset":0,"dx":-56,"dy":37},"width":425,"height":1,"view":{"stroke":null},"data":{"name":"one"},"mark":{"type":"rect","opacity":0}},
{"width":425,"height":1,"view":{"stroke":null},"data":{"name":"one"},"mark":{"type":"rect","opacity":0}},
{"width":425,"height":1,"view":{"stroke":null},"data":{"name":"one"},"mark":{"type":"rect","opacity":0}},
{"width":425,"height":1,"view":{"stroke":null},"data":{"name":"one"},"mark":{"type":"rect","opacity":0}},

{"title":{"text":"REACTOME_ASPARAGINE_N_LINKED_GLYCOSYLATION","fontSize":15,"offset":4,"frame":"group"},"width":425,"height":225,"view":{"stroke":"black","strokeWidth":3},"layer":[{"data":{"name":"mx"},"mark":"rule","encoding":{"x":{"field":"r","type":"quantitative","scale":{"domain":[0,36950],"nice":false},"axis":{"values":[10000,20000,30000],"title":null,"labels":false,"ticks":false}}}},{"data":{"name":"my"},"mark":"rule","encoding":{"y":{"field":"v","type":"quantitative","scale":{"domain":[-0.039,0.592],"nice":false},"axis":{"values":[0,0.2,0.4],"format":".1f","title":"Enrichment Score"}}}},{"data":{"name":"zero"},"mark":{"type":"rule","color":"#808080"},"encoding":{"y":{"field":"v","type":"quantitative"}}},{"data":{"name":"es1"},"mark":"line","encoding":{"x":{"field":"r","type":"quantitative"},"y":{"field":"v","type":"quantitative"}}},{"data":{"name":"nes1"},"mark":{"type":"text","align":"right","fontSize":12,"color":"#222222"},"encoding":{"x":{"field":"r","type":"quantitative"},"y":{"field":"v","type":"quantitative"},"text":{"field":"t"}}}]},
{"title":{"text":"KEGG_PATHWAYS_IN_CANCER","fontSize":15,"offset":4,"frame":"group"},"width":425,"height":225,"view":{"stroke":"black","strokeWidth":3},"layer":[{"data":{"name":"mx"},"mark":"rule","encoding":{"x":{"field":"r","type":"quantitative","scale":{"domain":[0,36950],"nice":false},"axis":{"values":[10000,20000,30000],"title":null,"labels":false,"ticks":false}}}},{"data":{"name":"my"},"mark":"rule","encoding":{"y":{"field":"v","type":"quantitative","scale":{"domain":[-0.101,0.627],"nice":false},"axis":{"values":[0,0.2,0.4,0.6],"format":".1f","title":"Enrichment Score"}}}},{"data":{"name":"zero"},"mark":{"type":"rule","color":"#808080"},"encoding":{"y":{"field":"v","type":"quantitative"}}},{"data":{"name":"es2"},"mark":"line","encoding":{"x":{"field":"r","type":"quantitative"},"y":{"field":"v","type":"quantitative"}}},{"data":{"name":"nes2"},"mark":{"type":"text","align":"right","fontSize":12,"color":"#222222"},"encoding":{"x":{"field":"r","type":"quantitative"},"y":{"field":"v","type":"quantitative"},"text":{"field":"t"}}}]},
{"title":{"text":"REACTOME_G_ALPHA_I_SIGNALLING_EVENTS","fontSize":15,"offset":4,"frame":"group"},"width":425,"height":225,"view":{"stroke":"black","strokeWidth":3},"layer":[{"data":{"name":"mx"},"mark":"rule","encoding":{"x":{"field":"r","type":"quantitative","scale":{"domain":[0,36950],"nice":false},"axis":{"values":[10000,20000,30000],"title":null,"labels":false,"ticks":false}}}},{"data":{"name":"my"},"mark":"rule","encoding":{"y":{"field":"v","type":"quantitative","scale":{"domain":[-0.079,0.653],"nice":false},"axis":{"values":[0,0.2,0.4,0.6],"format":".1f","title":"Enrichment Score"}}}},{"data":{"name":"zero"},"mark":{"type":"rule","color":"#808080"},"encoding":{"y":{"field":"v","type":"quantitative"}}},{"data":{"name":"es3"},"mark":"line","encoding":{"x":{"field":"r","type":"quantitative"},"y":{"field":"v","type":"quantitative"}}},{"data":{"name":"nes3"},"mark":{"type":"text","align":"right","fontSize":12,"color":"#222222"},"encoding":{"x":{"field":"r","type":"quantitative"},"y":{"field":"v","type":"quantitative"},"text":{"field":"t"}}}]},
{"title":{"text":"WP_PI3KAKT_SIGNALING_PATHWAY","fontSize":15,"offset":4,"frame":"group"},"width":425,"height":225,"view":{"stroke":"black","strokeWidth":3},"layer":[{"data":{"name":"mx"},"mark":"rule","encoding":{"x":{"field":"r","type":"quantitative","scale":{"domain":[0,36950],"nice":false},"axis":{"values":[10000,20000,30000],"title":null,"labels":false,"ticks":false}}}},{"data":{"name":"my"},"mark":"rule","encoding":{"y":{"field":"v","type":"quantitative","scale":{"domain":[-0.069,0.7096],"nice":false},"axis":{"values":[0,0.2,0.4,0.6],"format":".1f","title":"Enrichment Score"}}}},{"data":{"name":"zero"},"mark":{"type":"rule","color":"#808080"},"encoding":{"y":{"field":"v","type":"quantitative"}}},{"data":{"name":"es4"},"mark":"line","encoding":{"x":{"field":"r","type":"quantitative"},"y":{"field":"v","type":"quantitative"}}},{"data":{"name":"nes4"},"mark":{"type":"text","align":"right","fontSize":12,"color":"#222222"},"encoding":{"x":{"field":"r","type":"quantitative"},"y":{"field":"v","type":"quantitative"},"text":{"field":"t"}}}]},

{"width":425,"height":77,"view":{"stroke":"black","strokeWidth":3},"layer":[{"data":{"name":"heat1"},"mark":"rect","encoding":{"x":{"field":"a","type":"quantitative","scale":{"domain":[0,36950],"nice":false},"axis":null},"x2":{"field":"b"},"y":{"datum":0,"type":"quantitative","scale":{"domain":[0,1],"nice":false},"axis":null},"y2":{"datum":0.286},"color":{"field":"k","type":"nominal","scale":{"domain":["a","b","c","d","e","f","g","h","i","j"]},"legend":null}}},{"data":{"name":"hits1"},"mark":{"type":"rect","color":"black"},"encoding":{"x":{"field":"a","type":"quantitative"},"x2":{"field":"b"},"y":{"datum":0.286,"type":"quantitative"},"y2":{"datum":1}}}]},
{"width":425,"height":77,"view":{"stroke":"black","strokeWidth":3},"layer":[{"data":{"name":"heat2"},"mark":"rect","encoding":{"x":{"field":"a","type":"quantitative","scale":{"domain":[0,36950],"nice":false},"axis":null},"x2":{"field":"b"},"y":{"datum":0,"type":"quantitative","scale":{"domain":[0,1],"nice":false},"axis":null},"y2":{"datum":0.286},"color":{"field":"k","type":"nominal","scale":{"domain":["a","b","c","d","e","f","g","h","i","j"]},"legend":null}}},{"data":{"name":"hits2"},"mark":{"type":"rect","color":"black"},"encoding":{"x":{"field":"a","type":"quantitative"},"x2":{"field":"b"},"y":{"datum":0.286,"type":"quantitative"},"y2":{"datum":1}}}]},
{"width":425,"height":77,"view":{"stroke":"black","strokeWidth":3},"layer":[{"data":{"name":"heat3"},"mark":"rect","encoding":{"x":{"field":"a","type":"quantitative","scale":{"domain":[0,36950],"nice":false},"axis":null},"x2":{"field":"b"},"y":{"datum":0,"type":"quantitative","scale":{"domain":[0,1],"nice":false},"axis":null},"y2":{"datum":0.286},"color":{"field":"k","type":"nominal","scale":{"domain":["a","b","c","d","e","f","g","h","i","j"]},"legend":null}}},{"data":{"name":"hits3"},"mark":{"type":"rect","color":"black"},"encoding":{"x":{"field":"a","type":"quantitative"},"x2":{"field":"b"},"y":{"datum":0.286,"type":"quantitative"},"y2":{"datum":1}}}]},
{"width":425,"height":77,"view":{"stroke":"black","strokeWidth":3},"layer":[{"data":{"name":"heat4"},"mark":"rect","encoding":{"x":{"field":"a","type":"quantitative","scale":{"domain":[0,36950],"nice":false},"axis":null},"x2":{"field":"b"},"y":{"datum":0,"type":"quantitative","scale":{"domain":[0,1],"nice":false},"axis":null},"y2":{"datum":0.286},"color":{"field":"k","type":"nominal","scale":{"domain":["a","b","c","d","e","f","g","h","i","j"]},"legend":null}}},{"data":{"name":"hits4"},"mark":{"type":"rect","color":"black"},"encoding":{"x":{"field":"a","type":"quantitative"},"x2":{"field":"b"},"y":{"datum":0.286,"type":"quantitative"},"y2":{"datum":1}}}]},

{"width":425,"height":120,"view":{"stroke":"black","strokeWidth":3},"layer":[{"data":{"name":"mx"},"mark":"rule","encoding":{"x":{"field":"r","type":"quantitative","scale":{"domain":[0,36950],"nice":false},"axis":{"values":[10000,20000,30000],"format":"d","title":"Rank in Ordered Dataset","labelPadding":4,"titlePadding":6}}}},{"data":{"name":"mym"},"mark":"rule","encoding":{"y":{"field":"v","type":"quantitative","scale":{"domain":[-1.29,1.98],"nice":false},"axis":{"values":[-1,0,1],"labelExpr":"''+datum.value","title":"Ranked list metric"}}}},{"data":{"name":"metric"},"mark":"area","encoding":{"x":{"field":"r","type":"quantitative"},"y":{"field":"v","type":"quantitative"}}}]},
{"width":425,"height":120,"view":{"stroke":"black","strokeWidth":3},"layer":[{"data":{"name":"mx"},"mark":"rule","encoding":{"x":{"field":"r","type":"quantitative","scale":{"domain":[0,36950],"nice":false},"axis":{"values":[10000,20000,30000],"format":"d","title":"Rank in Ordered Dataset","labelPadding":4,"titlePadding":6}}}},{"data":{"name":"mym"},"mark":"rule","encoding":{"y":{"field":"v","type":"quantitative","scale":{"domain":[-1.29,1.98],"nice":false},"axis":{"values":[-1,0,1],"labelExpr":"''+datum.value","title":"Ranked list metric"}}}},{"data":{"name":"metric"},"mark":"area","encoding":{"x":{"field":"r","type":"quantitative"},"y":{"field":"v","type":"quantitative"}}}]},
{"width":425,"height":120,"view":{"stroke":"black","strokeWidth":3},"layer":[{"data":{"name":"mx"},"mark":"rule","encoding":{"x":{"field":"r","type":"quantitative","scale":{"domain":[0,36950],"nice":false},"axis":{"values":[10000,20000,30000],"format":"d","title":"Rank in Ordered Dataset","labelPadding":4,"titlePadding":6}}}},{"data":{"name":"mym"},"mark":"rule","encoding":{"y":{"field":"v","type":"quantitative","scale":{"domain":[-1.29,1.98],"nice":false},"axis":{"values":[-1,0,1],"labelExpr":"''+datum.value","title":"Ranked list metric"}}}},{"data":{"name":"metric"},"mark":"area","encoding":{"x":{"field":"r","type":"quantitative"},"y":{"field":"v","type":"quantitative"}}}]},
{"width":425,"height":120,"view":{"stroke":"black","strokeWidth":3},"layer":[{"data":{"name":"mx"},"mark":"rule","encoding":{"x":{"field":"r","type":"quantitative","scale":{"domain":[0,36950],"nice":false},"axis":{"values":[10000,20000,30000],"format":"d","title":"Rank in Ordered Dataset","labelPadding":4,"titlePadding":6}}}},{"data":{"name":"mym"},"mark":"rule","encoding":{"y":{"field":"v","type":"quantitative","scale":{"domain":[-1.29,1.98],"nice":false},"axis":{"values":[-1,0,1],"labelExpr":"''+datum.value","title":"Ranked list metric"}}}},{"data":{"name":"metric"},"mark":"area","encoding":{"x":{"field":"r","type":"quantitative"},"y":{"field":"v","type":"quantitative"}}}]},

{"width":425,"height":75,"view":{"stroke":null},"data":{"name":"one"},"mark":{"type":"rect","opacity":0}},
{"width":425,"height":75,"view":{"stroke":null},"data":{"name":"one"},"mark":{"type":"rect","opacity":0}},
{"width":425,"height":75,"view":{"stroke":null},"data":{"name":"one"},"mark":{"type":"rect","opacity":0}},
{"width":425,"height":75,"view":{"stroke":null},"data":{"name":"one"},"mark":{"type":"rect","opacity":0}},

{"title":{"text":"WP_VEGFAVEGFR2_SIGNALING_PATHWAY","fontSize":15,"offset":4,"frame":"group"},"width":425,"height":225,"view":{"stroke":"black","strokeWidth":3},"layer":[{"data":{"name":"mx"},"mark":"rule","encoding":{"x":{"field":"r","type":"quantitative","scale":{"domain":[0,36950],"nice":false},"axis":{"values":[10000,20000,30000],"title":null,"labels":false,"ticks":false}}}},{"data":{"name":"my"},"mark":"rule","encoding":{"y":{"field":"v","type":"quantitative","scale":{"domain":[-0.048,0.67],"nice":false},"axis":{"values":[0,0.2,0.4,0.6],"format":".1f","title":"Enrichment Score"}}}},{"data":{"name":"zero"},"mark":{"type":"rule","color":"#808080"},"encoding":{"y":{"field":"v","type":"quantitative"}}},{"data":{"name":"es5"},"mark":"line","encoding":{"x":{"field":"r","type":"quantitative"},"y":{"field":"v","type":"quantitative"}}},{"data":{"name":"nes5"},"mark":{"type":"text","align":"right","fontSize":12,"color":"#222222"},"encoding":{"x":{"field":"r","type":"quantitative"},"y":{"field":"v","type":"quantitative"},"text":{"field":"t"}}}]},
{"title":{"text":"KEGG_CYTOKINE_CYTOKINE_RECEPTOR_INTERACTION","fontSize":15,"offset":4,"frame":"group"},"width":425,"height":225,"view":{"stroke":"black","strokeWidth":3},"layer":[{"data":{"name":"mx"},"mark":"rule","encoding":{"x":{"field":"r","type":"quantitative","scale":{"domain":[0,36950],"nice":false},"axis":{"values":[10000,20000,30000],"title":null,"labels":false,"ticks":false}}}},{"data":{"name":"my2"},"mark":"rule","encoding":{"y":{"field":"v","type":"quantitative","scale":{"domain":[-0.131,0.612],"nice":false},"axis":{"values":[0,0.2,0.4,0.6],"format":".1f","title":"Enrichment Score"}}}},{"data":{"name":"zero"},"mark":{"type":"rule","color":"#808080"},"encoding":{"y":{"field":"v","type":"quantitative"}}},{"data":{"name":"es6"},"mark":"line","encoding":{"x":{"field":"r","type":"quantitative"},"y":{"field":"v","type":"quantitative"}}},{"data":{"name":"nes6"},"mark":{"type":"text","align":"right","fontSize":12,"color":"#222222"},"encoding":{"x":{"field":"r","type":"quantitative"},"y":{"field":"v","type":"quantitative"},"text":{"field":"t"}}}]},
{"title":{"text":"WP_IL18_SIGNALING_PATHWAY","fontSize":15,"offset":4,"frame":"group"},"width":425,"height":225,"view":{"stroke":"black","strokeWidth":3},"layer":[{"data":{"name":"mx"},"mark":"rule","encoding":{"x":{"field":"r","type":"quantitative","scale":{"domain":[0,36950],"nice":false},"axis":{"values":[10000,20000,30000],"title":null,"labels":false,"ticks":false}}}},{"data":{"name":"my2"},"mark":"rule","encoding":{"y":{"field":"v","type":"quantitative","scale":{"domain":[-0.1316,0.579],"nice":false},"axis":{"values":[0,0.2,0.4],"format":".1f","title":"Enrichment Score"}}}},{"data":{"name":"zero"},"mark":{"type":"rule","color":"#808080"},"encoding":{"y":{"field":"v","type":"quantitative"}}},{"data":{"name":"es7"},"mark":"line","encoding":{"x":{"field":"r","type":"quantitative"},"y":{"field":"v","type":"quantitative"}}},{"data":{"name":"nes7"},"mark":{"type":"text","align":"right","fontSize":12,"color":"#222222"},"encoding":{"x":{"field":"r","type":"quantitative"},"y":{"field":"v","type":"quantitative"},"text":{"field":"t"}}}]},
{"title":{"text":"KEGG_MAPK_SIGNALING_PATHWAY","fontSize":15,"offset":4,"frame":"group"},"width":425,"height":225,"view":{"stroke":"black","strokeWidth":3},"layer":[{"data":{"name":"mx"},"mark":"rule","encoding":{"x":{"field":"r","type":"quantitative","scale":{"domain":[0,36950],"nice":false},"axis":{"values":[10000,20000,30000],"title":null,"labels":false,"ticks":false}}}},{"data":{"name":"my"},"mark":"rule","encoding":{"y":{"field":"v","type":"quantitative","scale":{"domain":[-0.0695,0.641],"nice":false},"axis":{"values":[0,0.2,0.4,0.6],"format":".1f","title":"Enrichment Score"}}}},{"data":{"name":"zero"},"mark":{"type":"rule","color":"#808080"},"encoding":{"y":{"field":"v","type":"quantitative"}}},{"data":{"name":"es8"},"mark":"line","encoding":{"x":{"field":"r","type":"quantitative"},"y":{"field":"v","type":"quantitative"}}},{"data":{"name":"nes8"},"mark":{"type":"text","align":"right","fontSize":12,"color":"#222222"},"encoding":{"x":{"field":"r","type":"quantitative"},"y":{"field":"v","type":"quantitative"},"text":{"field":"t"}}}]},

{"width":425,"height":77,"view":{"stroke":"black","strokeWidth":3},"layer":[{"data":{"name":"heat5"},"mark":"rect","encoding":{"x":{"field":"a","type":"quantitative","scale":{"domain":[0,36950],"nice":false},"axis":null},"x2":{"field":"b"},"y":{"datum":0,"type":"quantitative","scale":{"domain":[0,1],"nice":false},"axis":null},"y2":{"datum":0.286},"color":{"field":"k","type":"nominal","scale":{"domain":["a","b","c","d","e","f","g","h","i","j"]},"legend":null}}},{"data":{"name":"hits5"},"mark":{"type":"rect","color":"black"},"encoding":{"x":{"field":"a","type":"quantitative"},"x2":{"field":"b"},"y":{"datum":0.286,"type":"quantitative"},"y2":{"datum":1}}}]},
{"width":425,"height":77,"view":{"stroke":"black","strokeWidth":3},"layer":[{"data":{"name":"heat6"},"mark":"rect","encoding":{"x":{"field":"a","type":"quantitative","scale":{"domain":[0,36950],"nice":false},"axis":null},"x2":{"field":"b"},"y":{"datum":0,"type":"quantitative","scale":{"domain":[0,1],"nice":false},"axis":null},"y2":{"datum":0.286},"color":{"field":"k","type":"nominal","scale":{"domain":["a","b","c","d","e","f","g","h","i","j"]},"legend":null}}},{"data":{"name":"hits6"},"mark":{"type":"rect","color":"black"},"encoding":{"x":{"field":"a","type":"quantitative"},"x2":{"field":"b"},"y":{"datum":0.286,"type":"quantitative"},"y2":{"datum":1}}}]},
{"width":425,"height":77,"view":{"stroke":"black","strokeWidth":3},"layer":[{"data":{"name":"heat7"},"mark":"rect","encoding":{"x":{"field":"a","type":"quantitative","scale":{"domain":[0,36950],"nice":false},"axis":null},"x2":{"field":"b"},"y":{"datum":0,"type":"quantitative","scale":{"domain":[0,1],"nice":false},"axis":null},"y2":{"datum":0.286},"color":{"field":"k","type":"nominal","scale":{"domain":["a","b","c","d","e","f","g","h","i","j"]},"legend":null}}},{"data":{"name":"hits7"},"mark":{"type":"rect","color":"black"},"encoding":{"x":{"field":"a","type":"quantitative"},"x2":{"field":"b"},"y":{"datum":0.286,"type":"quantitative"},"y2":{"datum":1}}}]},
{"width":425,"height":77,"view":{"stroke":"black","strokeWidth":3},"layer":[{"data":{"name":"heat8"},"mark":"rect","encoding":{"x":{"field":"a","type":"quantitative","scale":{"domain":[0,36950],"nice":false},"axis":null},"x2":{"field":"b"},"y":{"datum":0,"type":"quantitative","scale":{"domain":[0,1],"nice":false},"axis":null},"y2":{"datum":0.286},"color":{"field":"k","type":"nominal","scale":{"domain":["a","b","c","d","e","f","g","h","i","j"]},"legend":null}}},{"data":{"name":"hits8"},"mark":{"type":"rect","color":"black"},"encoding":{"x":{"field":"a","type":"quantitative"},"x2":{"field":"b"},"y":{"datum":0.286,"type":"quantitative"},"y2":{"datum":1}}}]},

{"width":425,"height":121,"view":{"stroke":"black","strokeWidth":3},"layer":[{"data":{"name":"mx"},"mark":"rule","encoding":{"x":{"field":"r","type":"quantitative","scale":{"domain":[0,36950],"nice":false},"axis":{"values":[10000,20000,30000],"format":"d","title":"Rank in Ordered Dataset","labelPadding":4,"titlePadding":6}}}},{"data":{"name":"mym"},"mark":"rule","encoding":{"y":{"field":"v","type":"quantitative","scale":{"domain":[-1.29,1.98],"nice":false},"axis":{"values":[-1,0,1],"labelExpr":"''+datum.value","title":"Ranked list metric"}}}},{"data":{"name":"metric"},"mark":"area","encoding":{"x":{"field":"r","type":"quantitative"},"y":{"field":"v","type":"quantitative"}}}]},
{"width":425,"height":121,"view":{"stroke":"black","strokeWidth":3},"layer":[{"data":{"name":"mx"},"mark":"rule","encoding":{"x":{"field":"r","type":"quantitative","scale":{"domain":[0,36950],"nice":false},"axis":{"values":[10000,20000,30000],"format":"d","title":"Rank in Ordered Dataset","labelPadding":4,"titlePadding":6}}}},{"data":{"name":"mym"},"mark":"rule","encoding":{"y":{"field":"v","type":"quantitative","scale":{"domain":[-1.29,1.98],"nice":false},"axis":{"values":[-1,0,1],"labelExpr":"''+datum.value","title":"Ranked list metric"}}}},{"data":{"name":"metric"},"mark":"area","encoding":{"x":{"field":"r","type":"quantitative"},"y":{"field":"v","type":"quantitative"}}}]},
{"width":425,"height":121,"view":{"stroke":"black","strokeWidth":3},"layer":[{"data":{"name":"mx"},"mark":"rule","encoding":{"x":{"field":"r","type":"quantitative","scale":{"domain":[0,36950],"nice":false},"axis":{"values":[10000,20000,30000],"format":"d","title":"Rank in Ordered Dataset","labelPadding":4,"titlePadding":6}}}},{"data":{"name":"mym"},"mark":"rule","encoding":{"y":{"field":"v","type":"quantitative","scale":{"domain":[-1.29,1.98],"nice":false},"axis":{"values":[-1,0,1],"labelExpr":"''+datum.value","title":"Ranked list metric"}}}},{"data":{"name":"metric"},"mark":"area","encoding":{"x":{"field":"r","type":"quantitative"},"y":{"field":"v","type":"quantitative"}}}]},
{"width":425,"height":121,"view":{"stroke":"black","strokeWidth":3},"layer":[{"data":{"name":"mx"},"mark":"rule","encoding":{"x":{"field":"r","type":"quantitative","scale":{"domain":[0,36950],"nice":false},"axis":{"values":[10000,20000,30000],"format":"d","title":"Rank in Ordered Dataset","labelPadding":4,"titlePadding":6}}}},{"data":{"name":"mym"},"mark":"rule","encoding":{"y":{"field":"v","type":"quantitative","scale":{"domain":[-1.29,1.98],"nice":false},"axis":{"values":[-1,0,1],"labelExpr":"''+datum.value","title":"Ranked list metric"}}}},{"data":{"name":"metric"},"mark":"area","encoding":{"x":{"field":"r","type":"quantitative"},"y":{"field":"v","type":"quantitative"}}}]}
],"columns":4,"align":"each","bounds":"flush","spacing":{"row":0,"column":62}}]}
]}
